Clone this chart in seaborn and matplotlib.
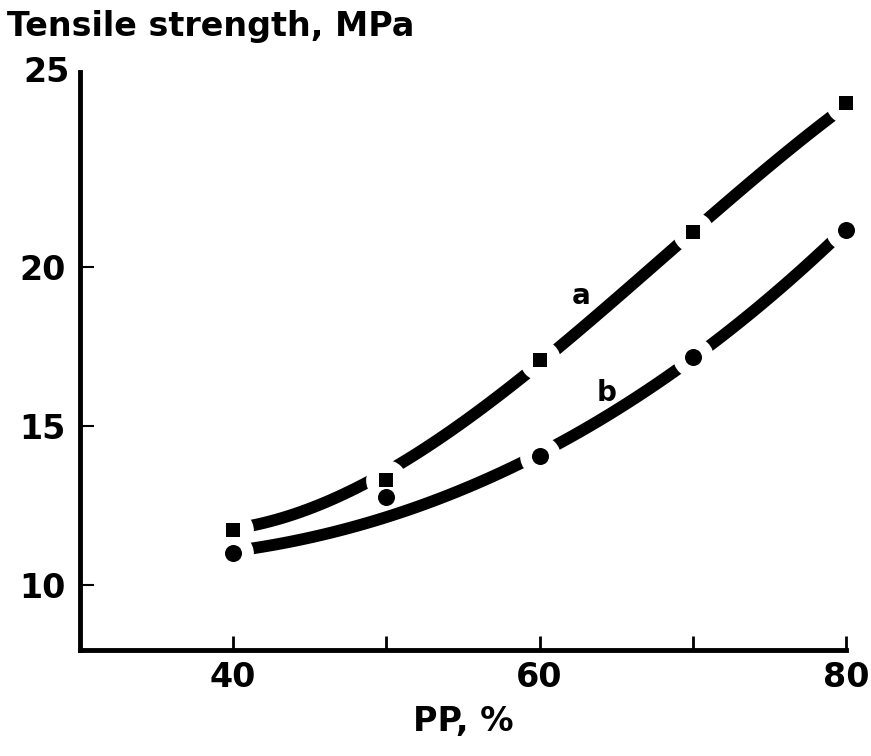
import numpy as np
import pandas as pd
import matplotlib
matplotlib.use("Agg")
import matplotlib.pyplot as plt
import seaborn as sns

# measured points (PP content, %) -> tensile strength, MPa
pp = [40, 50, 60, 70, 80]
strength_a = [11.73, 13.30, 17.08, 21.10, 25.16]
strength_b = [11.00, 12.77, 14.05, 17.17, 21.16]

# hand-drawn trend curves
curve_pp = [40, 45, 50, 55, 60, 65, 70, 75, 80]
curve_a = [11.80, 12.36, 13.55, 15.09, 17.10, 18.96, 21.10, 23.14, 25.10]
curve_b = [11.05, 11.45, 12.26, 13.08, 14.00, 15.41, 17.10, 19.28, 21.10]

sns.set_style("white")
plt.rcParams['font.family'] = ['DejaVu Sans']
plt.rcParams['font.weight'] = 'bold'
for key in ['text.color', 'axes.labelcolor', 'xtick.color', 'ytick.color']:
    plt.rcParams[key] = 'black'

pts = pd.DataFrame({
    'pp': pp + pp,
    'strength': strength_a + strength_b,
    'series': ['a'] * len(pp) + ['b'] * len(pp),
})
curves = pd.DataFrame({
    'pp': curve_pp + curve_pp,
    'strength': curve_a + curve_b,
    'series': ['a'] * len(curve_pp) + ['b'] * len(curve_pp),
})

fig = plt.figure(figsize=(8.71, 7.56), dpi=100)
ax = fig.add_axes([80 / 871, 1 - 650 / 756, (846 - 80) / 871, (650 - 72) / 756])

# smooth curves through the traced points
for s in ['a', 'b']:
    sns.regplot(data=curves[curves['series'] == s], x='pp', y='strength',
                order=3, ci=None, scatter=False, truncate=True, ax=ax,
                line_kws=dict(color='black', lw=8.5, zorder=2,
                              solid_capstyle='butt'))

# white gaps around markers (b at 50 sits off its curve, no gap there)
halo = pts[~((pts['series'] == 'b') & (pts['pp'] == 50))]
ax.scatter(halo['pp'], halo['strength'], s=860, c='white', linewidths=0,
           zorder=5, clip_on=False)

sns.scatterplot(data=pts[pts['series'] == 'a'], x='pp', y='strength',
                marker='s', color='black', s=90, linewidth=0, ax=ax,
                zorder=6, clip_on=False, legend=False)
sns.scatterplot(data=pts[pts['series'] == 'b'], x='pp', y='strength',
                marker='o', color='black', s=150, linewidth=0, ax=ax,
                zorder=6, clip_on=False, legend=False)

ax.text(62.7, 19.1, 'a', fontsize=20, fontweight='bold', ha='center', va='center')
ax.text(64.4, 16.05, 'b', fontsize=20, fontweight='bold', ha='center', va='center')

ax.set_xlim(30, 80)
ax.set_ylim(7.96, 26.13)
ax.set_xticks([40, 50, 60, 70, 80])
ax.set_xticklabels(['40', '', '60', '', '80'])
ax.set_yticks([10, 15, 20])
ax.set_yticklabels(['10', '15', '20'])
ax.tick_params(axis='x', direction='in', length=10, width=2, pad=8,
               labelsize=24, bottom=True)
ax.tick_params(axis='y', direction='in', length=10, width=1.5, pad=10,
               labelsize=24, left=True)

# top of y axis is labelled 25 in the original
ax.text(-10 / 766, 1.0, '25', transform=ax.transAxes, ha='right', va='center',
        fontsize=24, fontweight='bold')

sns.despine(ax=ax)
for side in ['left', 'bottom']:
    ax.spines[side].set_linewidth(3.5)
    ax.spines[side].set_color('black')

ax.set_xlabel('PP, %', fontsize=24, fontweight='bold', labelpad=8)
ax.set_ylabel('')
fig.text(7 / 871, 1 - 36 / 756, 'Tensile strength, MPa', fontsize=24,
         fontweight='bold', ha='left', va='baseline')

fig.savefig('out.png', dpi=100)
